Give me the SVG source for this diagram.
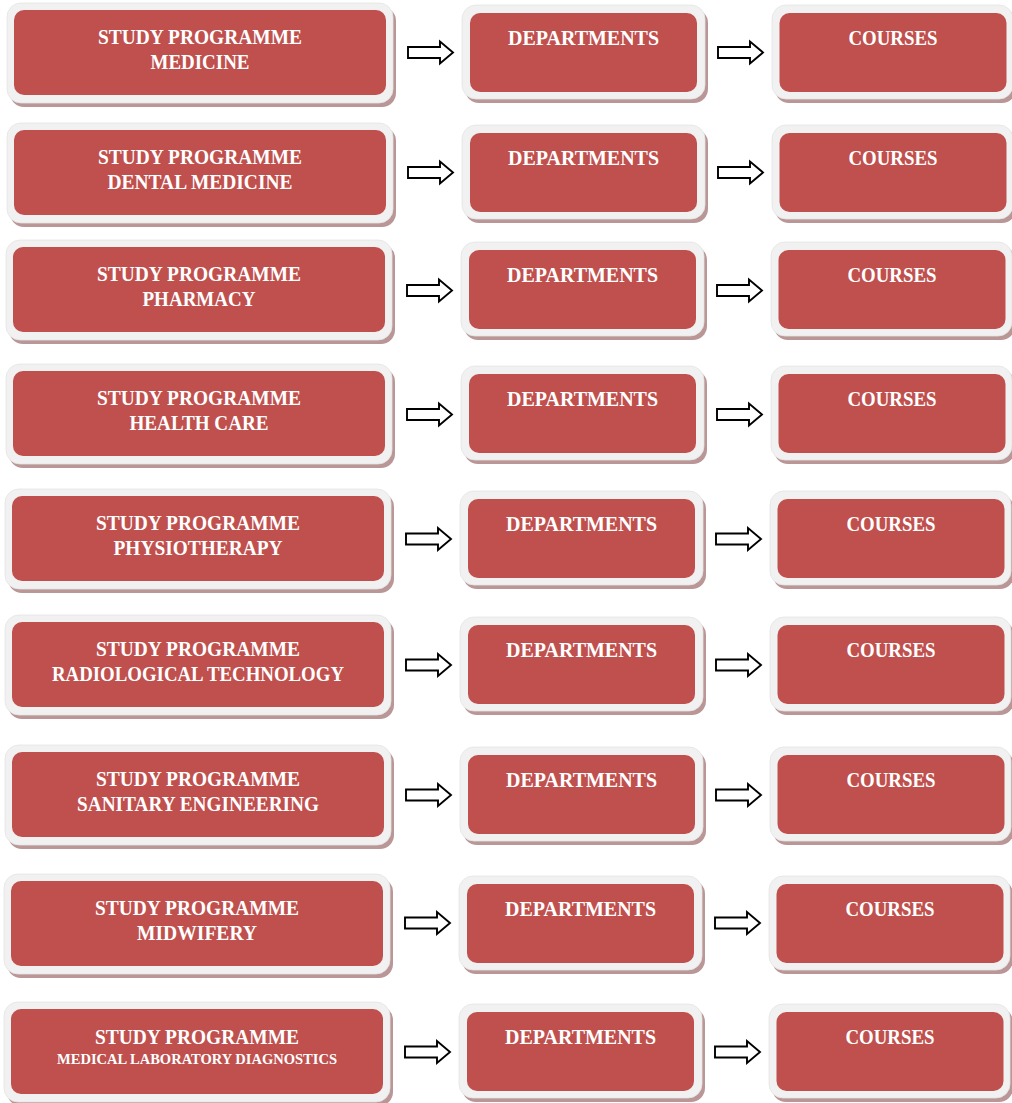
<svg xmlns="http://www.w3.org/2000/svg" xmlns:xlink="http://www.w3.org/1999/xlink" width="1012" height="1103" viewBox="0 0 1012 1103">
<style>
.sh{fill:#BA9696}
.fr{fill:#F1F1F1;stroke:#E4E4E4;stroke-width:0.8}
.rd{fill:#C0504D}
.t{font-family:"Liberation Serif","DejaVu Serif",serif;font-weight:bold;font-size:21.5px;fill:#FFFFFF;text-anchor:middle}
.ts{font-size:15px}
.ar{fill:#FFFFFF;stroke:#000000;stroke-width:1.9;stroke-linejoin:miter}
</style>
<defs>
<g id="leftBox">
<rect class="sh" x="10" y="-6" width="386" height="100" rx="14"/>
<rect class="fr" x="7" y="-10" width="386" height="100" rx="14"/>
<rect class="rd" x="14" y="-3" width="372" height="85" rx="10"/>
</g>
<g id="deptBox">
<rect class="sh" x="465" y="-4" width="243" height="94" rx="14"/>
<rect class="fr" x="462" y="-8" width="243" height="94" rx="14"/>
<rect class="rd" x="470" y="0" width="227" height="79" rx="10"/>
</g>
<g id="courseBox">
<rect class="sh" x="775" y="-4" width="241" height="94" rx="14"/>
<rect class="fr" x="772" y="-8" width="241" height="94" rx="14"/>
<rect class="rd" x="779.5" y="0" width="227" height="79" rx="10"/>
</g>
<path id="arrow" d="M0,-5.5 H32 V-11 L45,0 L32,11 V5.5 H0 Z"/>
</defs>

<!-- Row 1 -->
<g id="prog-medicine" transform="translate(0,13)">
<use xlink:href="#leftBox"/>
<text class="t" x="200" y="30.5" textLength="204" lengthAdjust="spacingAndGlyphs">STUDY PROGRAMME</text>
<text class="t" x="200" y="55.5" textLength="99" lengthAdjust="spacingAndGlyphs">MEDICINE</text>
</g>
<g id="dept-medicine" transform="translate(0,13)">
<use xlink:href="#deptBox"/>
<text class="t" x="583.5" y="31.5" textLength="151" lengthAdjust="spacingAndGlyphs">DEPARTMENTS</text>
</g>
<g id="courses-medicine" transform="translate(0,13)">
<use xlink:href="#courseBox"/>
<text class="t" x="893" y="31.5" textLength="89" lengthAdjust="spacingAndGlyphs">COURSES</text>
</g>

<!-- Row 2 -->
<g id="prog-dental" transform="translate(0,133)">
<use xlink:href="#leftBox"/>
<text class="t" x="200" y="30.5" textLength="204" lengthAdjust="spacingAndGlyphs">STUDY PROGRAMME</text>
<text class="t" x="200" y="55.5" textLength="185" lengthAdjust="spacingAndGlyphs">DENTAL MEDICINE</text>
</g>
<g id="dept-dental" transform="translate(0,133)">
<use xlink:href="#deptBox"/>
<text class="t" x="583.5" y="31.5" textLength="151" lengthAdjust="spacingAndGlyphs">DEPARTMENTS</text>
</g>
<g id="courses-dental" transform="translate(0,133)">
<use xlink:href="#courseBox"/>
<text class="t" x="893" y="31.5" textLength="89" lengthAdjust="spacingAndGlyphs">COURSES</text>
</g>

<!-- Row 3 -->
<g id="prog-pharmacy" transform="translate(-1,250)">
<use xlink:href="#leftBox"/>
<text class="t" x="200" y="30.5" textLength="204" lengthAdjust="spacingAndGlyphs">STUDY PROGRAMME</text>
<text class="t" x="200" y="55.5" textLength="113" lengthAdjust="spacingAndGlyphs">PHARMACY</text>
</g>
<g id="dept-pharmacy" transform="translate(-1,250)">
<use xlink:href="#deptBox"/>
<text class="t" x="583.5" y="31.5" textLength="151" lengthAdjust="spacingAndGlyphs">DEPARTMENTS</text>
</g>
<g id="courses-pharmacy" transform="translate(-1,250)">
<use xlink:href="#courseBox"/>
<text class="t" x="893" y="31.5" textLength="89" lengthAdjust="spacingAndGlyphs">COURSES</text>
</g>

<!-- Row 4 -->
<g id="prog-healthcare" transform="translate(-1,374)">
<use xlink:href="#leftBox"/>
<text class="t" x="200" y="30.5" textLength="204" lengthAdjust="spacingAndGlyphs">STUDY PROGRAMME</text>
<text class="t" x="200" y="55.5" textLength="139" lengthAdjust="spacingAndGlyphs">HEALTH CARE</text>
</g>
<g id="dept-healthcare" transform="translate(-1,374)">
<use xlink:href="#deptBox"/>
<text class="t" x="583.5" y="31.5" textLength="151" lengthAdjust="spacingAndGlyphs">DEPARTMENTS</text>
</g>
<g id="courses-healthcare" transform="translate(-1,374)">
<use xlink:href="#courseBox"/>
<text class="t" x="893" y="31.5" textLength="89" lengthAdjust="spacingAndGlyphs">COURSES</text>
</g>

<!-- Row 5 -->
<g id="prog-physiotherapy" transform="translate(-2,499)">
<use xlink:href="#leftBox"/>
<text class="t" x="200" y="30.5" textLength="204" lengthAdjust="spacingAndGlyphs">STUDY PROGRAMME</text>
<text class="t" x="200" y="55.5" textLength="169" lengthAdjust="spacingAndGlyphs">PHYSIOTHERAPY</text>
</g>
<g id="dept-physiotherapy" transform="translate(-2,499)">
<use xlink:href="#deptBox"/>
<text class="t" x="583.5" y="31.5" textLength="151" lengthAdjust="spacingAndGlyphs">DEPARTMENTS</text>
</g>
<g id="courses-physiotherapy" transform="translate(-2,499)">
<use xlink:href="#courseBox"/>
<text class="t" x="893" y="31.5" textLength="89" lengthAdjust="spacingAndGlyphs">COURSES</text>
</g>

<!-- Row 6 -->
<g id="prog-radiology" transform="translate(-2,625)">
<use xlink:href="#leftBox"/>
<text class="t" x="200" y="30.5" textLength="204" lengthAdjust="spacingAndGlyphs">STUDY PROGRAMME</text>
<text class="t" x="200" y="55.5" textLength="292" lengthAdjust="spacingAndGlyphs">RADIOLOGICAL TECHNOLOGY</text>
</g>
<g id="dept-radiology" transform="translate(-2,625)">
<use xlink:href="#deptBox"/>
<text class="t" x="583.5" y="31.5" textLength="151" lengthAdjust="spacingAndGlyphs">DEPARTMENTS</text>
</g>
<g id="courses-radiology" transform="translate(-2,625)">
<use xlink:href="#courseBox"/>
<text class="t" x="893" y="31.5" textLength="89" lengthAdjust="spacingAndGlyphs">COURSES</text>
</g>

<!-- Row 7 -->
<g id="prog-sanitary" transform="translate(-2,755)">
<use xlink:href="#leftBox"/>
<text class="t" x="200" y="30.5" textLength="204" lengthAdjust="spacingAndGlyphs">STUDY PROGRAMME</text>
<text class="t" x="200" y="55.5" textLength="242" lengthAdjust="spacingAndGlyphs">SANITARY ENGINEERING</text>
</g>
<g id="dept-sanitary" transform="translate(-2,755)">
<use xlink:href="#deptBox"/>
<text class="t" x="583.5" y="31.5" textLength="151" lengthAdjust="spacingAndGlyphs">DEPARTMENTS</text>
</g>
<g id="courses-sanitary" transform="translate(-2,755)">
<use xlink:href="#courseBox"/>
<text class="t" x="893" y="31.5" textLength="89" lengthAdjust="spacingAndGlyphs">COURSES</text>
</g>

<!-- Row 8 -->
<g id="prog-midwifery" transform="translate(-3,884)">
<use xlink:href="#leftBox"/>
<text class="t" x="200" y="30.5" textLength="204" lengthAdjust="spacingAndGlyphs">STUDY PROGRAMME</text>
<text class="t" x="200" y="55.5" textLength="120" lengthAdjust="spacingAndGlyphs">MIDWIFERY</text>
</g>
<g id="dept-midwifery" transform="translate(-3,884)">
<use xlink:href="#deptBox"/>
<text class="t" x="583.5" y="31.5" textLength="151" lengthAdjust="spacingAndGlyphs">DEPARTMENTS</text>
</g>
<g id="courses-midwifery" transform="translate(-3,884)">
<use xlink:href="#courseBox"/>
<text class="t" x="893" y="31.5" textLength="89" lengthAdjust="spacingAndGlyphs">COURSES</text>
</g>

<!-- Row 9 -->
<g id="prog-medlab" transform="translate(-3,1012)">
<use xlink:href="#leftBox"/>
<text class="t" x="200" y="32" textLength="204" lengthAdjust="spacingAndGlyphs">STUDY PROGRAMME</text>
<text class="t ts" x="200" y="52" textLength="280" lengthAdjust="spacingAndGlyphs">MEDICAL LABORATORY DIAGNOSTICS</text>
</g>
<g id="dept-medlab" transform="translate(-3,1012)">
<use xlink:href="#deptBox"/>
<text class="t" x="583.5" y="31.5" textLength="151" lengthAdjust="spacingAndGlyphs">DEPARTMENTS</text>
</g>
<g id="courses-medlab" transform="translate(-3,1012)">
<use xlink:href="#courseBox"/>
<text class="t" x="893" y="31.5" textLength="89" lengthAdjust="spacingAndGlyphs">COURSES</text>
</g>

<g id="connectors">
<use class="ar" xlink:href="#arrow" transform="translate(408,52.5)"/>
<use class="ar" xlink:href="#arrow" transform="translate(718,52.5)"/>
<use class="ar" xlink:href="#arrow" transform="translate(408,172.5)"/>
<use class="ar" xlink:href="#arrow" transform="translate(718,172.5)"/>
<use class="ar" xlink:href="#arrow" transform="translate(407,290.5)"/>
<use class="ar" xlink:href="#arrow" transform="translate(717,290.5)"/>
<use class="ar" xlink:href="#arrow" transform="translate(407,414.5)"/>
<use class="ar" xlink:href="#arrow" transform="translate(717,414.5)"/>
<use class="ar" xlink:href="#arrow" transform="translate(406,539)"/>
<use class="ar" xlink:href="#arrow" transform="translate(716,539)"/>
<use class="ar" xlink:href="#arrow" transform="translate(406,665)"/>
<use class="ar" xlink:href="#arrow" transform="translate(716,665)"/>
<use class="ar" xlink:href="#arrow" transform="translate(406,795)"/>
<use class="ar" xlink:href="#arrow" transform="translate(716,795)"/>
<use class="ar" xlink:href="#arrow" transform="translate(405,923)"/>
<use class="ar" xlink:href="#arrow" transform="translate(715,923)"/>
<use class="ar" xlink:href="#arrow" transform="translate(405,1052)"/>
<use class="ar" xlink:href="#arrow" transform="translate(715,1052)"/>
</g>
</svg>
